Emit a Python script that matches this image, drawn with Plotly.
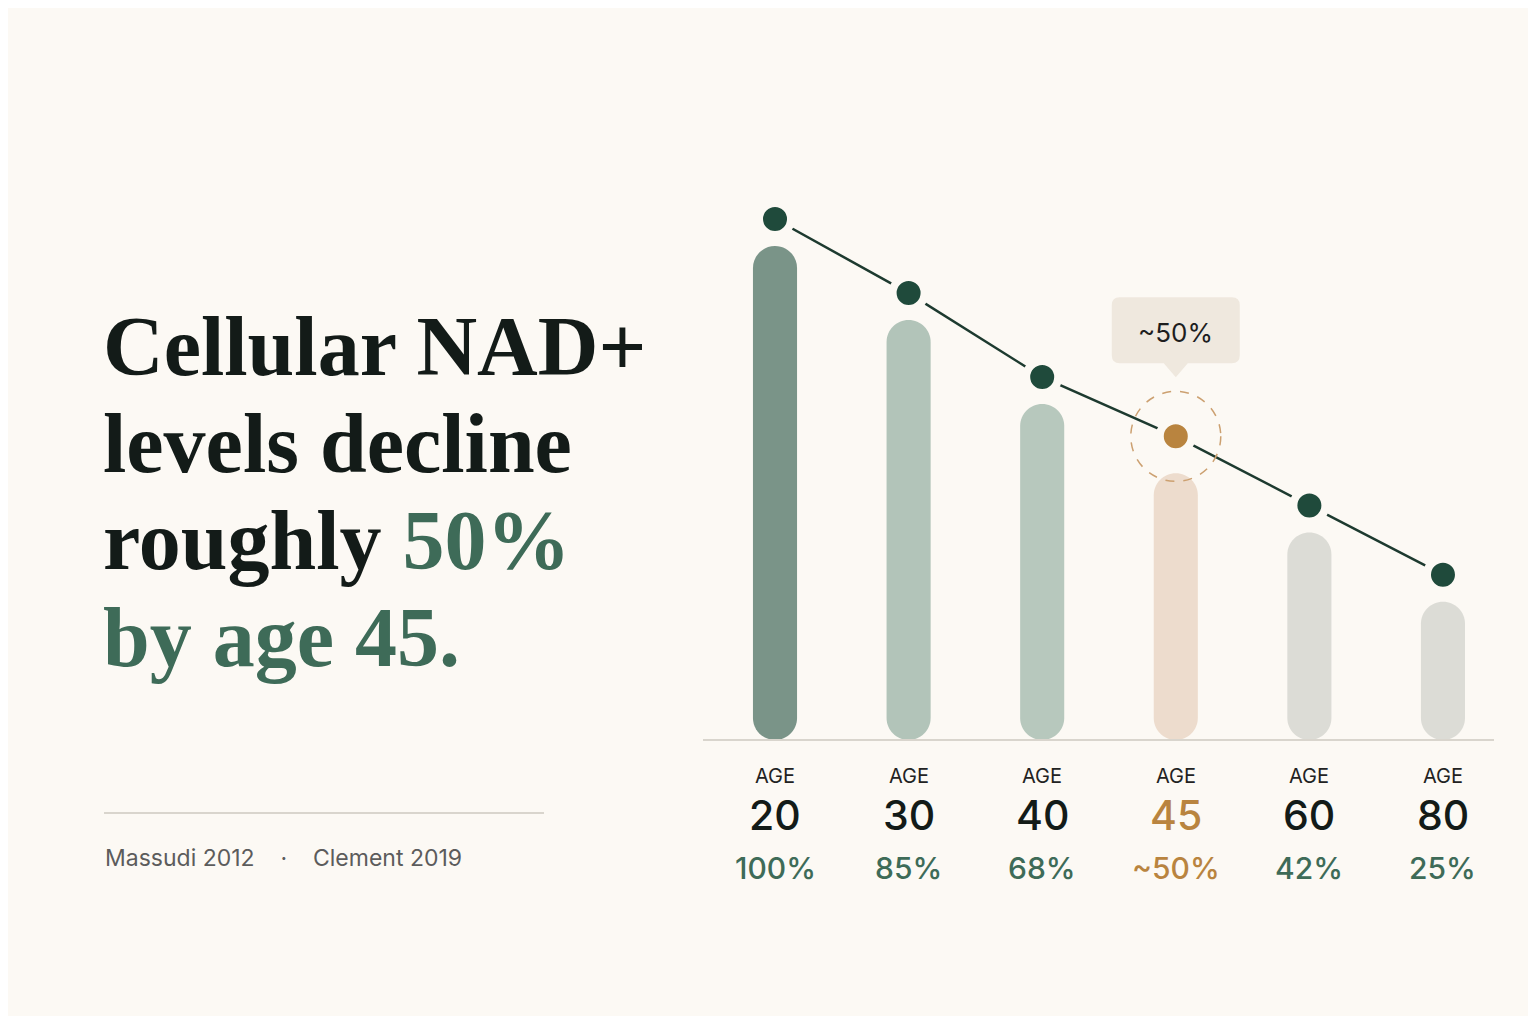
import plotly.graph_objects as go

# Data
ages = ["20", "30", "40", "45", "60", "80"]
nad_level = [100, 85, 68, 54, 42, 28]      # bar heights
dot_level = [100, 85, 68, 56, 42, 28]      # trend dots
pct_labels = ["100%", "85%", "68%", "~50%", "42%", "25%"]
bar_colors = ["#7a9488", "#b2c4b9", "#b7c8bd", "#eddccd", "#dcdcd6", "#dcdcd6"]
highlight = "45"
sources = ["Massudi 2012", "Clement 2019"]

# colours
BG = "#fcf9f4"
INK = "#131b18"
GREEN = "#3e6b58"
DOT = "#1f4a3b"
LINE = "#1d3a2f"
ORANGE = "#b9843f"
RING = "#cca070"
RULE = "#d9d5cd"

# page geometry in reference pixels; the page puts the figure 8px in
OFF = 8
W, H = 1536 - 2 * OFF, 1024 - 2 * OFF
L, R, T, B = 703, 1494, 150, 740
px_per_unit = 4.94
ymax = (B - T) / px_per_unit
dot_lift = 27 / px_per_unit
hi = ages.index(highlight)
xs = list(range(len(ages)))


def paper_x(px):
    return (px - L) / (R - L)


def paper_y(py):
    return (B - py) / (B - T)


def pill(xc, v, hw=0.165, ry=22 / px_per_unit, k=0.5523):
    # rounded at both ends, in data units
    return (f"M {xc-hw},{ry} L {xc-hw},{v-ry} "
            f"C {xc-hw},{v-ry+k*ry} {xc-k*hw},{v} {xc},{v} "
            f"C {xc+k*hw},{v} {xc+hw},{v-ry+k*ry} {xc+hw},{v-ry} "
            f"L {xc+hw},{ry} "
            f"C {xc+hw},{ry-k*ry} {xc+k*hw},0 {xc},0 "
            f"C {xc-k*hw},0 {xc-hw},{ry-k*ry} {xc-hw},{ry} Z")


fig = go.Figure()

# pill shaped bars
for x, v, c in zip(xs, nad_level, bar_colors):
    fig.add_shape(type="path", xref="x", yref="y", path=pill(x, v),
                  fillcolor=c, line_width=0, layer="below")

# trend line with dots
dot_colors = [ORANGE if a == highlight else DOT for a in ages]
fig.add_trace(go.Scatter(
    x=xs, y=dot_level, yaxis="y2", mode="lines+markers",
    line=dict(color=LINE, width=2.5),
    marker=dict(size=32, color=dot_colors, line=dict(color=BG, width=8)),
    showlegend=False, hoverinfo="skip",
))

# dashed ring around the highlighted point
fig.add_shape(
    type="circle", xref="x", yref="y2", xsizemode="pixel", ysizemode="pixel",
    xanchor=hi, yanchor=dot_level[hi], x0=-45, x1=45, y0=-45, y1=45,
    line=dict(color=RING, width=1.5, dash="dash"),
)

# callout bubble above the highlighted point
fig.add_shape(
    type="path", xref="x", yref="y2", xsizemode="pixel", ysizemode="pixel",
    xanchor=hi, yanchor=dot_level[hi],
    path=("M -56,139 L 56,139 Q 64,139 64,131 L 64,81 Q 64,73 56,73 "
          "L 12,73 L 0,59 L -12,73 L -56,73 Q -64,73 -64,81 L -64,131 "
          "Q -64,139 -56,139 Z"),
    fillcolor="#efe8de", line_width=0,
)
fig.add_annotation(
    x=hi, y=dot_level[hi], xref="x", yref="y2", yshift=104,
    xanchor="center", yanchor="middle",
    text=pct_labels[hi], showarrow=False,
    font=dict(family="Inter", size=26, color="#1e1e1e"),
)

# baseline
fig.add_shape(type="line", xref="paper", yref="paper", x0=0, x1=1, y0=0, y1=0,
              line=dict(color=RULE, width=2))

# category labels under the bars
for i, a in enumerate(ages):
    c_num = ORANGE if a == highlight else INK
    c_pct = ORANGE if a == highlight else GREEN
    common = dict(x=i, y=0, xref="x", yref="paper", xanchor="center",
                  yanchor="middle", showarrow=False)
    fig.add_annotation(**common, yshift=-36, text="AGE",
                       font=dict(family="Inter", size=20, color="#222222"))
    fig.add_annotation(**common, yshift=-75, text=a,
                       font=dict(family="Inter", size=41, color=c_num, weight=500))
    fig.add_annotation(**common, yshift=-128, text=pct_labels[i],
                       font=dict(family="Inter", size=30, color=c_pct, weight=500))

# headline, one annotation per line
title_lines = [
    "Cellular NAD+",
    "levels decline",
    f"roughly <span style='color:{GREEN}'>50%</span>",
    f"<span style='color:{GREEN}'>by age 45.</span>",
]
for k, line in enumerate(title_lines):
    fig.add_annotation(
        x=paper_x(101), y=paper_y(346 + k * 97), xref="paper", yref="paper",
        xanchor="left", yanchor="middle", text=line, showarrow=False,
        font=dict(family="Liberation Serif", size=84, color=INK, weight="bold"),
    )

# divider and sources
fig.add_shape(type="line", xref="paper", yref="paper",
              x0=paper_x(104), x1=paper_x(544), y0=paper_y(813), y1=paper_y(813),
              line=dict(color=RULE, width=2))
fig.add_annotation(
    x=paper_x(103), y=paper_y(858), xref="paper", yref="paper",
    xanchor="left", yanchor="middle", showarrow=False,
    text="    ·    ".join(sources),
    font=dict(family="Inter", size=23, color="#5c5c5c"),
)

fig.update_layout(
    width=W, height=H,
    margin=dict(l=L - OFF, r=(1536 - OFF) - R, t=T - OFF, b=(1024 - OFF) - B),
    paper_bgcolor=BG, plot_bgcolor=BG,
    xaxis=dict(range=[-0.539, 5.382], showgrid=False, showticklabels=False,
               zeroline=False, showline=False, fixedrange=True),
    yaxis=dict(range=[0, ymax], visible=False, fixedrange=True),
    yaxis2=dict(range=[-dot_lift, ymax - dot_lift], overlaying="y", visible=False,
                fixedrange=True),
    showlegend=False,
)

fig.write_html("out.html")
